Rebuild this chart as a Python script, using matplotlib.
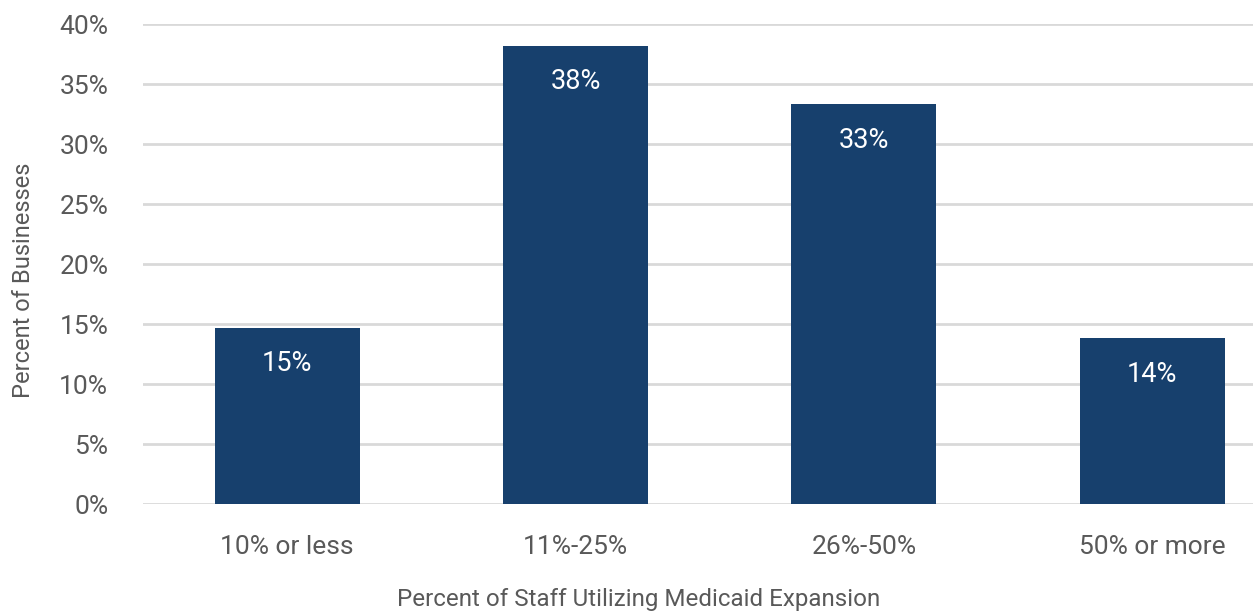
import matplotlib
matplotlib.use("Agg")
import matplotlib.pyplot as plt
from matplotlib.ticker import FuncFormatter

categories = ["10% or less", "11%-25%", "26%-50%", "50% or more"]
percent_businesses = [14.7, 38.2, 33.3, 13.8]
y_ticks = [0, 5, 10, 15, 20, 25, 30, 35, 40]

plt.rcParams['font.family'] = ['Roboto', 'DejaVu Sans']
text_color = "#595959"
bar_color = "#17406D"

fig = plt.figure(figsize=(12.53, 6.15), dpi=100)
ax = fig.add_axes([143 / 1253, 111 / 615, (1296.5 - 143) / 1253, (504 - 24) / 615])

x = list(range(len(categories)))
ax.bar(x, percent_businesses, width=0.503, color=bar_color, zorder=3)
for xi, v in zip(x, percent_businesses):
    ax.text(xi, v - 3.0, f"{v:.0f}%", ha="center", va="center",
            color="white", fontsize=19.5, zorder=4)

ax.set_xlim(-0.5, 3.5)
ax.set_ylim(0, 40)
ax.set_yticks(y_ticks)
ax.yaxis.set_major_formatter(FuncFormatter(lambda v, p: f"{v:.0f}%"))
ax.set_xticks(x)
ax.set_xticklabels(categories)
ax.grid(axis="y", color="#D9D9D9", linewidth=2, zorder=0)
ax.set_axisbelow(True)
for s in ax.spines.values():
    s.set_visible(False)
ax.tick_params(axis="both", length=0, labelsize=19, colors=text_color)
ax.tick_params(axis="y", pad=25)
ax.tick_params(axis="x", pad=22)

ax.set_xlabel("Percent of Staff Utilizing Medicaid Expansion", fontsize=17.4,
              color=text_color)
ax.xaxis.set_label_coords(0.43, -0.174)
ax.set_ylabel("Percent of Businesses", fontsize=17, color=text_color)
ax.yaxis.set_label_coords(-0.094, 0.465)

fig.savefig("out.png", dpi=100)
